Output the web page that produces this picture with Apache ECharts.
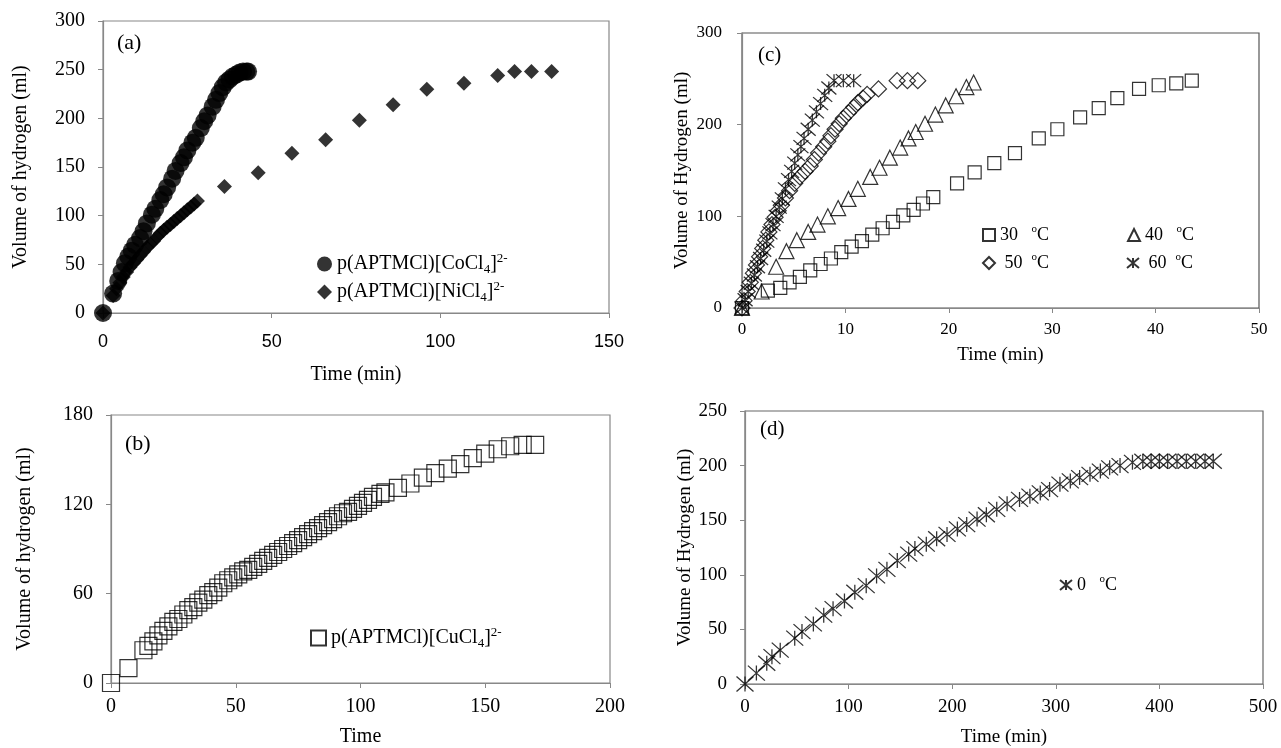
<!DOCTYPE html>
<html>
<head>
<meta charset="utf-8">
<title>Hydrogen generation</title>
<script src="https://cdn.jsdelivr.net/npm/echarts@6/dist/echarts.min.js"></script>
<style>
    html, body { margin: 0; padding: 0; background: #fff; }
    #main { width: 1281px; height: 748px; }
</style>
</head>
<body>
<div id="main"></div>
<script>
// (a) Co / Ni catalysts
var coTime = [0, 3, 4.5, 5.5, 6.5, 7.5, 8.5, 9.5, 11, 12, 13, 14.5, 15.5, 17, 18, 19, 20.5, 21.5, 23, 24, 25, 26.5, 27.5, 29, 30, 31, 32.5, 33.5, 34.5, 35.5, 36.5, 37.5, 38.5, 39.5, 40.5, 41.5, 42.5, 43];
var coVol = [0, 20, 33, 42, 51, 58, 64, 70, 77, 84, 92, 101, 107, 116, 122, 129, 138, 146, 154, 160, 167, 175, 180, 190, 197, 203, 212, 219, 226, 232, 237, 240, 243, 245, 247, 248, 248, 248];
var niTime = [0, 3, 4, 5, 6, 7, 8, 9, 10, 11, 12, 13, 14, 15, 16, 17, 18, 19, 20, 21, 22, 23, 24, 25, 26, 27, 28, 36, 46, 56, 66, 76, 86, 96, 107, 117, 122, 127, 133];
var niVol = [0, 18, 25, 31, 37, 42, 47, 51, 55, 59, 63, 67, 71, 74, 78, 82, 85, 88, 91, 94, 97, 100, 103, 106, 109, 112, 115, 130, 144, 164, 178, 198, 214, 230, 236, 244, 248, 248, 248];

// (b) Cu catalyst
var cuTime = [0, 7, 13, 15, 17, 19, 21, 23, 25, 27, 29, 31, 33, 35, 37, 39, 41, 43, 45, 47, 49, 51, 53, 55, 57, 59, 61, 63, 65, 67, 69, 71, 73, 75, 77, 79, 81, 83, 85, 87, 89, 91, 93, 95, 97, 99, 101, 103, 105, 108, 110, 115, 120, 125, 130, 135, 140, 145, 150, 155, 160, 165, 170];
var cuVol = [0, 10, 22, 25, 28, 32, 35, 38, 41, 43, 46, 49, 51, 54, 56, 59, 61, 64, 67, 69, 71, 73, 75, 76, 78, 80, 82, 84, 86, 88, 90, 92, 94, 96, 98, 100, 102, 104, 106, 108, 110, 112, 114, 115, 117, 119, 121, 123, 125, 127, 128, 131, 134, 138, 141, 144, 147, 151, 154, 157, 159, 160, 160];

// (c) temperature series
var t30Time = [0, 2.5, 3.7, 4.6, 5.6, 6.6, 7.6, 8.6, 9.6, 10.6, 11.6, 12.6, 13.6, 14.6, 15.6, 16.6, 17.5, 18.5, 20.8, 22.5, 24.4, 26.4, 28.7, 30.5, 32.7, 34.5, 36.3, 38.4, 40.3, 42, 43.5];
var t30Vol = [0, 19, 22, 28, 34, 41, 48, 54, 61, 67, 73, 80, 87, 94, 101, 107, 114, 121, 136, 148, 158, 169, 185, 195, 208, 218, 229, 239, 243, 245, 248];
var t40Time = [0, 1.9, 3.3, 4.3, 5.3, 6.4, 7.3, 8.3, 9.3, 10.3, 11.2, 12.4, 13.3, 14.3, 15.3, 16.1, 16.8, 17.7, 18.7, 19.7, 20.7, 21.7, 22.4];
var t40Vol = [0, 18, 45, 62, 74, 83, 91, 100, 109, 119, 130, 143, 153, 164, 175, 185, 192, 201, 211, 221, 231, 241, 246];
var t50Time = [0, 0.2, 0.5, 0.8, 1.1, 1.4, 1.7, 2.0, 2.3, 2.6, 2.9, 3.2, 3.5, 3.8, 4.2, 4.6, 5.1, 5.6, 6.1, 6.6, 7.0, 7.4, 7.9, 8.3, 8.6, 9.0, 9.4, 9.8, 10.3, 10.8, 11.2, 11.7, 12.1, 13.2, 15.0, 16.0, 17.0];
var t50Vol = [0, 8, 18, 28, 38, 47, 56, 65, 74, 83, 91, 99, 106, 112, 120, 128, 136, 143, 149, 155, 162, 169, 176, 182, 188, 195, 201, 207, 213, 219, 224, 229, 233, 239, 248, 248, 248];
var t60Time = [0, 0.3, 0.6, 0.9, 1.2, 1.5, 1.8, 2.1, 2.4, 2.7, 3.0, 3.3, 3.6, 3.9, 4.2, 4.5, 4.8, 5.1, 5.4, 5.7, 6.0, 6.4, 6.8, 7.2, 7.6, 8.0, 8.4, 8.9, 9.8, 10.8];
var t60Vol = [0, 9, 18, 27, 36, 45, 54, 63, 73, 82, 91, 100, 110, 119, 130, 140, 149, 158, 167, 176, 185, 195, 205, 214, 223, 232, 240, 248, 248, 248];

// (d) 0 oC
var t0Time = [0, 11, 21, 26, 34, 48, 55, 66, 76, 85, 96, 106, 117, 127, 137, 147, 158, 164, 175, 185, 195, 205, 214, 224, 233, 243, 253, 265, 275, 285, 294, 304, 314, 323, 333, 343, 352, 362, 374, 384, 392, 400, 408, 417, 426, 435, 444, 452];
var t0Vol = [0, 10, 19, 25, 31, 42, 48, 55, 63, 69, 76, 84, 90, 99, 105, 113, 119, 124, 128, 133, 137, 142, 146, 151, 155, 160, 165, 169, 172, 175, 178, 183, 186, 189, 192, 195, 198, 200, 203, 204, 204, 204, 204, 204, 204, 204, 204, 204];

// axis ticks: [min, max, interval]
var xTicksA = [0, 150, 50];
var yTicksA = [0, 300, 50];
var xTicksB = [0, 200, 50];
var yTicksB = [0, 180, 60];
var xTicksC = [0, 50, 10];
var yTicksC = [0, 300, 100];
var xTicksD = [0, 500, 100];
var yTicksD = [0, 250, 50];

var SERIF = 'Liberation Serif';
var SANS = 'Liberation Sans';
var STAR = 'path://M0,0L12,10M12,0L0,10M6,0L6,10';

function pairs(xs, ys) {
    return xs.map(function (x, i) { return [x, ys[i]]; });
}

var hollow = { color: 'rgba(0,0,0,0)', borderColor: '#000', borderWidth: 1.2 };
var solid = { color: '#000' };

var chemNames = {
    Co: 'p(APTMCl)[CoCl{sub|4}]{sup|2-}',
    Ni: 'p(APTMCl)[NiCl{sub|4}]{sup|2-}',
    Cu: 'p(APTMCl)[CuCl{sub|4}]{sup|2-}'
};
var tempNames = {
    '30': '30   {o|o}C',
    '40': '40   {o|o}C',
    '50': ' 50  {o|o}C',
    '60': ' 60  {o|o}C',
    '0': '0   {o|o}C'
};

function chemLegend(names, left, top, size) {
    return {
        data: names,
        left: left,
        top: top,
        orient: 'vertical',
        itemGap: 4,
        itemWidth: size,
        itemHeight: size,
        selectedMode: false,
        formatter: function (name) { return chemNames[name]; },
        textStyle: {
            fontFamily: SERIF, fontSize: 20, color: '#000', lineHeight: 24,
            rich: {
                sub: { fontFamily: SERIF, fontSize: 13, verticalAlign: 'bottom', color: '#000' },
                sup: { fontFamily: SERIF, fontSize: 13, verticalAlign: 'top', color: '#000' }
            }
        }
    };
}

function tempLegend(name, left, top) {
    return {
        data: [name],
        left: left,
        top: top,
        itemWidth: 12,
        itemHeight: 12,
        selectedMode: false,
        formatter: function (n) { return tempNames[n]; },
        textStyle: {
            fontFamily: SERIF, fontSize: 18, color: '#000', lineHeight: 22,
            rich: {
                o: { fontFamily: SERIF, fontSize: 11, verticalAlign: 'top', color: '#000' }
            }
        }
    };
}

function valueAxis(idx, t, opt) {
    return {
        type: 'value',
        gridIndex: idx,
        min: t[0],
        max: t[1],
        interval: t[2],
        name: opt.name,
        nameLocation: 'middle',
        nameGap: opt.nameGap,
        nameTextStyle: { fontFamily: SERIF, fontSize: opt.nameSize || 20, color: '#000' },
        axisLine: { show: true, onZero: false, lineStyle: { color: opt.lineColor || '#888', width: 1.2 } },
        axisTick: { show: true, inside: false, length: 5, lineStyle: { color: opt.lineColor || '#888' } },
        axisLabel: { fontFamily: opt.font || SERIF, fontSize: opt.size, color: '#000', margin: opt.margin },
        splitLine: { show: false }
    };
}

var chart = echarts.init(document.getElementById('main'));

var option = {
    animation: false,
    backgroundColor: '#fff',
    grid: [
        { left: 103, top: 21, width: 506, height: 292, show: true, borderColor: '#888', borderWidth: 1.2 },
        { left: 111, top: 415, width: 499, height: 272, show: true, borderColor: '#888', borderWidth: 1.2 },
        { left: 742, top: 33, width: 517, height: 275, show: true, borderColor: '#555', borderWidth: 1.2 },
        { left: 745, top: 411, width: 518, height: 275, show: true, borderColor: '#666', borderWidth: 1.2 }
    ],
    xAxis: [
        valueAxis(0, xTicksA, { name: 'Time (min)', nameGap: 52, size: 18, font: SANS, margin: 20 }),
        valueAxis(1, xTicksB, { name: 'Time', nameGap: 44, size: 20, margin: 14 }),
        valueAxis(2, xTicksC, { name: 'Time (min)', nameGap: 38, size: 17, margin: 13, nameSize: 19 }),
        valueAxis(3, xTicksD, { name: 'Time (min)', nameGap: 44, size: 19, margin: 14, nameSize: 19 })
    ],
    yAxis: [
        valueAxis(0, yTicksA, { name: 'Volume of hydrogen (ml)', nameGap: 72, size: 20, margin: 18 }),
        valueAxis(1, yTicksB, { name: 'Volume of hydrogen (ml)', nameGap: 76, size: 20, margin: 18 }),
        valueAxis(2, yTicksC, { name: 'Volume of Hydrogen (ml)', nameGap: 50, size: 17, margin: 20, nameSize: 19 }),
        valueAxis(3, yTicksD, { name: 'Volume of Hydrogen (ml)', nameGap: 50, size: 19, margin: 18, nameSize: 19 })
    ],
    legend: [
        chemLegend(['Co', 'Ni'], 312, 247, 15),
        chemLegend(['Cu'], 305, 621, 15),
        tempLegend('30', 977, 219),
        tempLegend('40', 1122, 219),
        tempLegend('50', 977, 247),
        tempLegend('60', 1121, 247),
        tempLegend('0', 1054, 569)
    ],
    graphic: [
        { type: 'text', left: 117, top: 32, style: { text: '(a)', font: '22px "Liberation Serif"', fill: '#000' } },
        { type: 'text', left: 125, top: 433, style: { text: '(b)', font: '22px "Liberation Serif"', fill: '#000' } },
        { type: 'text', left: 758, top: 45, style: { text: '(c)', font: '21px "Liberation Serif"', fill: '#000' } },
        { type: 'text', left: 760, top: 419, style: { text: '(d)', font: '21px "Liberation Serif"', fill: '#000' } }
    ],
    series: [
        { name: 'Co', type: 'scatter', xAxisIndex: 0, yAxisIndex: 0, symbol: 'circle', symbolSize: 18, itemStyle: solid, data: pairs(coTime, coVol) },
        { name: 'Ni', type: 'scatter', xAxisIndex: 0, yAxisIndex: 0, symbol: 'diamond', symbolSize: 15, itemStyle: solid, data: pairs(niTime, niVol) },
        { name: 'Cu', type: 'scatter', xAxisIndex: 1, yAxisIndex: 1, symbol: 'rect', symbolSize: 17, itemStyle: hollow, data: pairs(cuTime, cuVol) },
        { name: '30', type: 'scatter', xAxisIndex: 2, yAxisIndex: 2, symbol: 'rect', symbolSize: 13, itemStyle: hollow, data: pairs(t30Time, t30Vol) },
        { name: '40', type: 'scatter', xAxisIndex: 2, yAxisIndex: 2, symbol: 'triangle', symbolSize: 15, itemStyle: hollow, data: pairs(t40Time, t40Vol) },
        { name: '50', type: 'scatter', xAxisIndex: 2, yAxisIndex: 2, symbol: 'diamond', symbolSize: 16, itemStyle: hollow, data: pairs(t50Time, t50Vol) },
        { name: '60', type: 'scatter', xAxisIndex: 2, yAxisIndex: 2, symbol: STAR, symbolSize: [15, 13], itemStyle: hollow, data: pairs(t60Time, t60Vol) },
        { name: '0', type: 'scatter', xAxisIndex: 3, yAxisIndex: 3, symbol: STAR, symbolSize: [17, 15], itemStyle: hollow, data: pairs(t0Time, t0Vol) }
    ]
};

chart.setOption(option);
</script>
</body>
</html>
